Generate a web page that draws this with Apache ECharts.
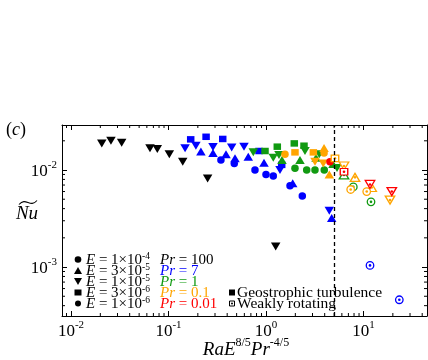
<!DOCTYPE html>
<html><head><meta charset="utf-8">
<script src="https://cdn.jsdelivr.net/npm/echarts@6/dist/echarts.min.js"></script>
<style>html,body{margin:0;padding:0;background:#fff}#c{width:428px;height:360px}</style>
</head><body><div id="c"></div>
<script>
// ---- axis ranges and ticks ----
const xRange = [0.00809, 44.8];
const yRange = [0.000313, 0.0291];
const xMajorTicks = [0.01, 0.1, 1, 10];
const yMajorTicks = [0.001, 0.01];
const tickMantissas = [2, 3, 4, 5, 6, 7, 8, 9];
const dashedLineX = 5;

// ---- data: [RaE^{8/5}Pr^{-4/5}, Nu~] ----
// Pr = 100 (black)
const pr100_E1e5 = [[0.0207,0.0188],[0.0257,0.0200],[0.0331,0.0191],[0.0646,0.0168],[0.0768,0.0165],[0.102,0.0145],[0.140,0.0122],[0.252,0.0082],[1.257,0.00163]];
// Pr = 7 (blue)
const pr7_E1e4 = [[0.345,0.0127],[0.473,0.0117],[0.771,0.0100],[1.0,0.0090],[1.188,0.0087],[1.763,0.0069],[2.357,0.0054]];
const pr7_E3e5 = [[0.215,0.0155],[0.286,0.0150],[0.389,0.0145],[0.481,0.0132],[0.658,0.0137],[0.954,0.0119],[1.879,0.0073],[4.72,0.0032]];
const pr7_E1e5 = [[0.148,0.0168],[0.191,0.0178],[0.286,0.0173],[0.445,0.0171],[0.595,0.0174],[1.392,0.0100],[4.46,0.0038]];
const pr7_E3e6 = [[0.169,0.0207],[0.243,0.0220],[0.360,0.0209],[0.848,0.0157],[1.449,0.0113]];
const pr7_E1e4_weak = [[11.66,0.00104],[23.3,0.00046]];
// Pr = 1 (green)
const pr1_E1e4 = [[1.983,0.0104],[2.614,0.0100],[3.18,0.0100],[3.96,0.0100]];
const pr1_E3e5 = [[1.459,0.0127],[2.232,0.0127],[3.26,0.0134],[4.86,0.0115]];
const pr1_E1e5 = [[0.741,0.0152],[1.188,0.0134],[1.359,0.0143],[2.512,0.0157],[3.52,0.0145],[5.35,0.0105]];
const pr1_E3e6 = [[0.977,0.0157],[1.306,0.0174],[1.951,0.0188],[2.454,0.0178]];
const pr1_E3e5_weak = [[6.31,0.0089]];
const pr1_E1e4_weak = [[7.86,0.0067],[11.94,0.0047]];
// Pr = 0.1 (orange)
const pr01_E1e6 = [[1.566,0.0145],[3.94,0.0150]];
const pr01_E3e6 = [[1.983,0.0152],[3.06,0.0152]];
const pr01_E1e5 = [[3.18,0.0122],[3.87,0.0117]];
const pr01_E3e5 = [[3.94,0.0169],[4.46,0.0090]];
const pr01_E3e6_weak = [[5.10,0.0132]];
const pr01_E1e5_weak = [[6.31,0.0110],[18.7,0.0049]];
const pr01_E3e5_weak = [[8.18,0.0084],[12.14,0.0066]];
const pr01_E1e4_weak = [[7.39,0.0063],[10.79,0.0060]];
// Pr = 0.01 (red)
const pr001_E1e6 = [[4.53,0.0122]];
const pr001_E3e6_weak = [[6.31,0.0096]];
const pr001_E1e5_weak = [[11.66,0.0071],[19.5,0.0060]];

// ---- legend text ----
const legendE = [['1','-4'],['3','-5'],['1','-5'],['3','-6'],['1','-6']];
const legendPr = ['100','7','1','0.1','0.01'];

const COL = {k:'#000000', b:'#0000ff', g:'#119a11', o:'#ffa500', r:'#ff0000'};
const SERIF = "'Liberation Serif','Times New Roman',serif";

const SHAPES = {
  circ: {symbol:'circle', size:7.5, rot:0},
  up:   {symbol:'triangle', size:[9.5,8], rot:0},
  down: {symbol:'triangle', size:[9.5,8], rot:180},
  sq:   {symbol:'rect', size:[7.5,6.5], rot:0},
  hex:  {symbol:'circle', size:7.5, rot:0}
};

const series = [];
function add(data, shape, color, open) {
  const s = SHAPES[shape];
  if (!open) {
    series.push({type:'scatter', data, symbol:s.symbol, symbolSize:s.size, symbolRotate:s.rot,
      itemStyle:{color, opacity:1}, silent:true});
  } else {
    series.push({type:'scatter', data, symbol:s.symbol, symbolSize:s.size, symbolRotate:s.rot,
      itemStyle:{color:'#ffffff', borderColor:color, borderWidth:1.3, opacity:1}, silent:true});
    series.push({type:'scatter', data, symbol:'circle', symbolSize:2.6,
      itemStyle:{color, opacity:1}, silent:true});
  }
}
add(pr100_E1e5,'down',COL.k);
add(pr7_E3e6,'sq',COL.b); add(pr7_E1e5,'down',COL.b); add(pr7_E3e5,'up',COL.b); add(pr7_E1e4,'circ',COL.b);
add(pr1_E3e6,'sq',COL.g); add(pr1_E1e5,'down',COL.g); add(pr1_E3e5,'up',COL.g); add(pr1_E1e4,'circ',COL.g);
add(pr01_E1e6,'hex',COL.o); add(pr01_E3e6,'sq',COL.o); add(pr01_E1e5,'down',COL.o); add(pr01_E3e5,'up',COL.o);
add(pr001_E1e6,'hex',COL.r);
add(pr7_E1e4_weak,'circ',COL.b,true);
add(pr1_E3e5_weak,'up',COL.g,true); add(pr1_E1e4_weak,'circ',COL.g,true);
add(pr01_E3e6_weak,'sq',COL.o,true); add(pr01_E1e5_weak,'down',COL.o,true);
add(pr01_E3e5_weak,'up',COL.o,true); add(pr01_E1e4_weak,'circ',COL.o,true);
add(pr001_E3e6_weak,'sq',COL.r,true); add(pr001_E1e5_weak,'down',COL.r,true);

// dashed line
series[0].markLine = {silent:true, symbol:'none', label:{show:false}, animation:false,
  lineStyle:{type:[4,3], color:'#000', width:1.3}, data:[{xAxis:dashedLineX}]};

// minor ticks (custom series through axis scales)
function minorList(range) {
  const out = [];
  const lo = Math.floor(Math.log10(range[0])), hi = Math.ceil(Math.log10(range[1]));
  for (let e = lo; e <= hi; e++) for (const m of tickMantissas) {
    const v = m * Math.pow(10, e);
    if (v > range[0] && v < range[1]) out.push(v);
  }
  return out;
}
const minorX = minorList(xRange), minorY = minorList(yRange);
const LS = {stroke:'#000', lineWidth:1};
series.push({type:'custom', silent:true, clip:false, z:5,
  data: minorX.map(v => [v, yRange[0]]),
  renderItem(params, api) {
    const v = api.value(0);
    const b = api.coord([v, yRange[0]]), t = api.coord([v, yRange[1]]);
    return {type:'group', children:[
      {type:'line', shape:{x1:b[0], y1:b[1], x2:b[0], y2:b[1]-3}, style:LS},
      {type:'line', shape:{x1:t[0], y1:t[1], x2:t[0], y2:t[1]+3}, style:LS}]};
  }});
series.push({type:'custom', silent:true, clip:false, z:5,
  data: minorY.map(v => [xRange[0], v]),
  renderItem(params, api) {
    const v = api.value(1);
    const l = api.coord([xRange[0], v]), r = api.coord([xRange[1], v]);
    return {type:'group', children:[
      {type:'line', shape:{x1:l[0], y1:l[1], x2:l[0]+3, y2:l[1]}, style:LS},
      {type:'line', shape:{x1:r[0], y1:r[1], x2:r[0]-3, y2:r[1]}, style:LS}]};
  }});

function expFmt(majors) {
  return function (v) {
    for (const m of majors) if (Math.abs(Math.log10(v) - Math.log10(m)) < 1e-6) {
      return '{b|10}{s|' + Math.round(Math.log10(m)) + '}';
    }
    return '';
  };
}
const labelRich = {
  b:{fontFamily:SERIF, fontSize:17, color:'#000', lineHeight:20, verticalAlign:'bottom'},
  s:{fontFamily:SERIF, fontSize:11, color:'#000', lineHeight:11, verticalAlign:'top'}
};
const axisCommon = {type:'log', logBase:10, splitLine:{show:false}, minorTick:{show:false},
  axisLine:{show:true, lineStyle:{color:'#000', width:1}},
  axisTick:{show:true, inside:true, length:5, lineStyle:{color:'#000', width:1}}};

// legend graphics
const rowY = [259.5, 270.5, 281.5, 292.5, 303.5];
const prCols = [COL.k, COL.b, COL.g, COL.o, COL.r];
const legRich = {
  i:{fontFamily:SERIF, fontSize:15, fontStyle:'italic', lineHeight:16, verticalAlign:'bottom'},
  n:{fontFamily:SERIF, fontSize:15, lineHeight:16, verticalAlign:'bottom'},
  s:{fontFamily:SERIF, fontSize:9.5, lineHeight:9, verticalAlign:'top'}
};
const graphic = [];
const mx = 78;
graphic.push({type:'circle', shape:{cx:mx, cy:rowY[0], r:3.3}, style:{fill:'#000'}});
graphic.push({type:'polygon', shape:{points:[[mx-4,rowY[1]+3.5],[mx+4,rowY[1]+3.5],[mx,rowY[1]-3.5]]}, style:{fill:'#000'}});
graphic.push({type:'polygon', shape:{points:[[mx-4,rowY[2]-3.5],[mx+4,rowY[2]-3.5],[mx,rowY[2]+3.5]]}, style:{fill:'#000'}});
graphic.push({type:'rect', shape:{x:mx-3.5, y:rowY[3]-3, width:7, height:6}, style:{fill:'#000'}});
graphic.push({type:'circle', shape:{cx:mx, cy:rowY[4], r:3}, style:{fill:'#000'}});
for (let k = 0; k < 5; k++) {
  graphic.push({type:'text', x:86, y:rowY[k], style:{text:'{i|E}{n| = ' + legendE[k][0] + '×10}{s|' + legendE[k][1] + '}',
    rich:legRich, fill:'#000', verticalAlign:'middle', align:'left'}});
  graphic.push({type:'text', x:160, y:rowY[k], style:{text:'{i|Pr}{n| = ' + legendPr[k] + '}',
    rich:legRich, fill:prCols[k], verticalAlign:'middle', align:'left'}});
}
graphic.push({type:'rect', shape:{x:229, y:rowY[3]-3, width:6, height:6}, style:{fill:'#000'}});
graphic.push({type:'rect', shape:{x:229.5, y:rowY[4]-2.5, width:5, height:5}, style:{fill:'#fff', stroke:'#000', lineWidth:1}});
graphic.push({type:'circle', shape:{cx:232, cy:rowY[4], r:1}, style:{fill:'#000'}});
graphic.push({type:'text', x:237, y:rowY[3], style:{text:'Geostrophic turbulence', font:'15.5px ' + SERIF, fill:'#000', verticalAlign:'middle', align:'left'}});
graphic.push({type:'text', x:237, y:rowY[4], style:{text:'Weakly rotating', font:'15.5px ' + SERIF, fill:'#000', verticalAlign:'middle', align:'left'}});
// panel label
graphic.push({type:'text', x:6, y:130, style:{text:'{p|(}{i|c}{p|)}', verticalAlign:'middle', align:'left', fill:'#000',
  rich:{p:{fontFamily:SERIF, fontSize:18}, i:{fontFamily:SERIF, fontSize:18, fontStyle:'italic'}}}});
// y-axis title (Nu with wide tilde)
graphic.push({type:'text', x:27, y:214, style:{text:'Nu', font:'italic 19px ' + SERIF, fill:'#000', verticalAlign:'middle', align:'center'}});
graphic.push({type:'bezierCurve', shape:{x1:19, y1:204.5, cpx1:26, cpy1:196.5, cpx2:30, cpy2:208.5, x2:37, y2:200.5},
  style:{fill:'none', stroke:'#000', lineWidth:1.1}});
// x-axis title
graphic.push({type:'text', x:246, y:348, style:{text:'{i|RaE}{s|8/5}{i|Pr}{s|-4/5}', verticalAlign:'middle', align:'center', fill:'#000',
  rich:{i:{fontFamily:SERIF, fontSize:19, fontStyle:'italic', lineHeight:22, verticalAlign:'bottom'},
        s:{fontFamily:SERIF, fontSize:12, lineHeight:12, verticalAlign:'top'}}}});

const chart = echarts.init(document.getElementById('c'), null, {renderer:'canvas'});
chart.setOption({
  animation:false,
  backgroundColor:'#fff',
  grid:{left:62, right:1, top:125, bottom:44, containLabel:false, outerBoundsMode:'none'},
  xAxis:[
    Object.assign({}, axisCommon, {position:'bottom', min:xRange[0], max:xRange[1],
      axisLabel:{show:true, margin:4, formatter:expFmt(xMajorTicks), rich:labelRich, showMinLabel:false, showMaxLabel:false}}),
    Object.assign({}, axisCommon, {position:'top', min:xRange[0], max:xRange[1], axisLabel:{show:false}})
  ],
  yAxis:[
    Object.assign({}, axisCommon, {position:'left', min:yRange[0], max:yRange[1],
      axisLabel:{show:true, margin:5, formatter:expFmt(yMajorTicks), rich:labelRich, showMinLabel:false, showMaxLabel:false}}),
    Object.assign({}, axisCommon, {position:'right', min:yRange[0], max:yRange[1], axisLabel:{show:false}})
  ],
  series,
  graphic
});
</script></body></html>
